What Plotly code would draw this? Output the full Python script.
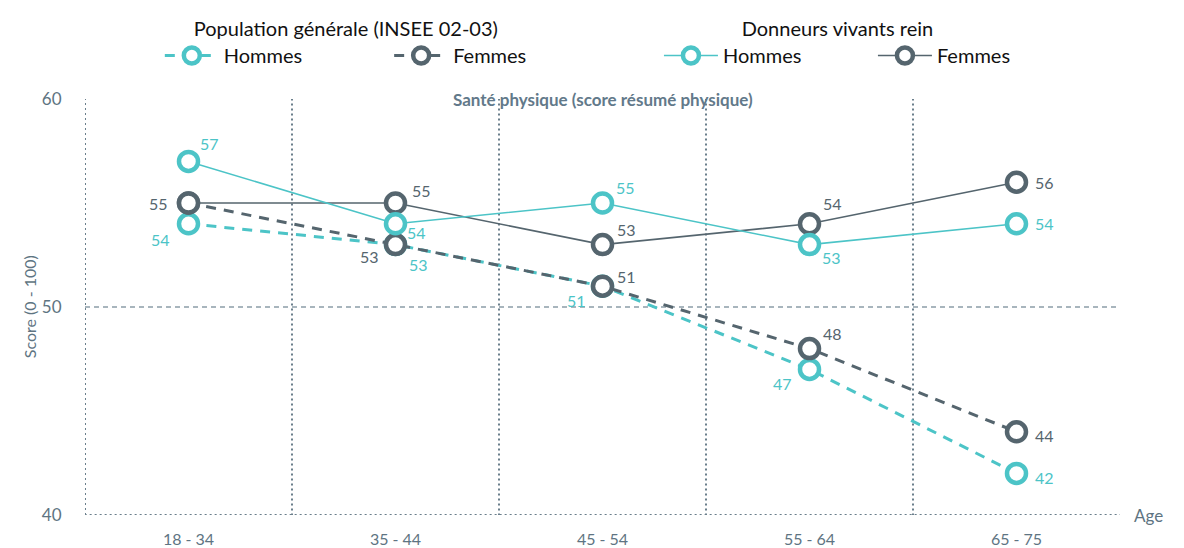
import plotly.graph_objects as go

# --- données ---
AGES = ["18 - 34", "35 - 44", "45 - 54", "55 - 64", "65 - 75"]
POP_HOMMES = [54, 53, 51, 47, 42]
POP_FEMMES = [55, 53, 51, 48, 44]
DON_HOMMES = [57, 54, 55, 53, 54]
DON_FEMMES = [55, 55, 53, 54, 56]

# décalage des étiquettes (px, dx / dy vers le bas)
POP_HOMMES_LBL = [(-28, 16), (23, 20), (-26, 14), (-27, 14), (28, 4)]
POP_FEMMES_LBL = [(-30, 0), (-26, 12), (24, -10), (23, -15), (28, 4)]
DON_HOMMES_LBL = [(21, -18), (21, 9), (23, -16), (22, 13), (28, 0)]
DON_FEMMES_LBL = [None, (26, -13), (24, -15), (23, -20), (28, 0)]

TEAL = "#4CC4C7"
DARK = "#55656E"
AXIS = "#5E7482"
FONT = "Lato"
NB = "\u00a0"

xs = list(range(len(AGES)))
fig = go.Figure()

# espace après "Hommes" pour écarter les deux entrées de légende
series = [
    ("Hommes" + NB * 16, POP_HOMMES, TEAL, "10px,8px", 3, "legend", POP_HOMMES_LBL),
    ("Femmes", POP_FEMMES, DARK, "10px,8px", 3, "legend", POP_FEMMES_LBL),
    ("Femmes", DON_FEMMES, DARK, "solid", 1.6, "legend2", DON_FEMMES_LBL),
    ("Hommes" + NB * 13, DON_HOMMES, TEAL, "solid", 1.6, "legend2", DON_HOMMES_LBL),
]

for name, vals, color, dash, width, leg, labels in series:
    fig.add_trace(
        go.Scatter(
            x=xs,
            y=vals,
            name=name,
            legend=leg,
            mode="lines+markers",
            line=dict(color=color, width=width, dash=dash),
            marker=dict(size=19, color="white", line=dict(color=color, width=4.5)),
            cliponaxis=False,
        )
    )
    for x, v, off in zip(xs, vals, labels):
        if off is None:
            continue
        fig.add_annotation(
            x=x, y=v, text=str(v), showarrow=False,
            xshift=off[0], yshift=-off[1],
            font=dict(family=FONT, size=16, color=color),
        )

# la légende Donneurs: Hommes d'abord
fig.data[2].legendrank = 2
fig.data[3].legendrank = 1

DOT = "2px,3px"
GRID = "#6A7E8B"
# lignes verticales entre les catégories
for b in [0.5, 1.5, 2.5, 3.5]:
    fig.add_shape(type="line", xref="x", yref="y", x0=b, x1=b, y0=39.5, y1=60,
                  line=dict(color=GRID, width=2, dash=DOT), layer="below")
# axe y
fig.add_shape(type="line", xref="x", yref="y", x0=-0.5, x1=-0.5, y0=40, y1=60,
              line=dict(color=GRID, width=2, dash=DOT), layer="below")
# axe x + petit trait final
fig.add_shape(type="line", xref="x", yref="y", x0=-0.55, x1=4.5, y0=40, y1=40,
              line=dict(color=GRID, width=2, dash=DOT), layer="below")
fig.add_shape(type="line", xref="x", yref="y", x0=4.49, x1=4.49, y0=39.5, y1=40,
              line=dict(color=GRID, width=2, dash=DOT), layer="below")
# graduations 50 / 60
for t in [50, 60]:
    fig.add_shape(type="line", xref="x", yref="y", x0=-0.55, x1=-0.5, y0=t, y1=t,
                  line=dict(color=GRID, width=2, dash=DOT), layer="below")
fig.add_shape(type="line", xref="x", yref="y", x0=-0.5, x1=4.5, y0=50, y1=50,
              line=dict(color="#8C9DA8", width=1.3, dash="5px,4px"), layer="below")

fig.add_annotation(
    xref="paper", yref="y", x=0.5, y=60, yshift=0, showarrow=False,
    text="<b>Santé physique (score résumé physique)</b>",
    font=dict(family=FONT, size=17, color="#62798A"),
)
fig.add_annotation(
    xref="paper", yref="paper", x=-0.065, y=0.5, textangle=-90, showarrow=False,
    text="Score (0 - 100)", font=dict(family=FONT, size=16, color=AXIS),
)
fig.add_annotation(
    xref="paper", yref="y", x=1.043, y=40, showarrow=False,
    text="Age", font=dict(family=FONT, size=17, color=AXIS),
)

legend_common = dict(
    orientation="h", xanchor="center", yanchor="top", y=1.214,
    font=dict(family=FONT, size=20, color="#111111"),
    bgcolor="rgba(0,0,0,0)", itemwidth=54,
    tracegroupgap=0,
)

fig.update_layout(
    width=1184,
    height=548,
    margin=dict(l=85, r=64, t=99, b=33, autoexpand=False),
    plot_bgcolor="white",
    paper_bgcolor="white",
    font=dict(family=FONT, color=AXIS),
    xaxis=dict(
        range=[-0.5, 4.5], tickvals=xs, ticktext=AGES, showgrid=False,
        zeroline=False, showline=False, ticks="outside", ticklen=10,
        tickcolor="rgba(0,0,0,0)", tickfont=dict(family=FONT, size=16, color=AXIS),
    ),
    yaxis=dict(
        range=[40, 60], tickvals=[40, 50, 60], showgrid=False, zeroline=False,
        showline=False, ticks="outside", ticklen=19, tickcolor="rgba(0,0,0,0)",
        tickfont=dict(family=FONT, size=17, color=AXIS),
    ),
    legend=dict(
        x=0.252,
        title=dict(text="Population générale (INSEE 02-03)", side="top center",
                   font=dict(family=FONT, size=20, color="#111111")),
        **legend_common,
    ),
    legend2=dict(
        x=0.727,
        title=dict(text="Donneurs vivants rein", side="top center",
                   font=dict(family=FONT, size=20, color="#111111")),
        **legend_common,
    ),
)

# sans la marge par défaut du <body>, le graphique occupe toute la fenêtre
fig.write_html(
    "out.html",
    config={"displayModeBar": False},
    post_script="document.body.style.margin='0';",
)
